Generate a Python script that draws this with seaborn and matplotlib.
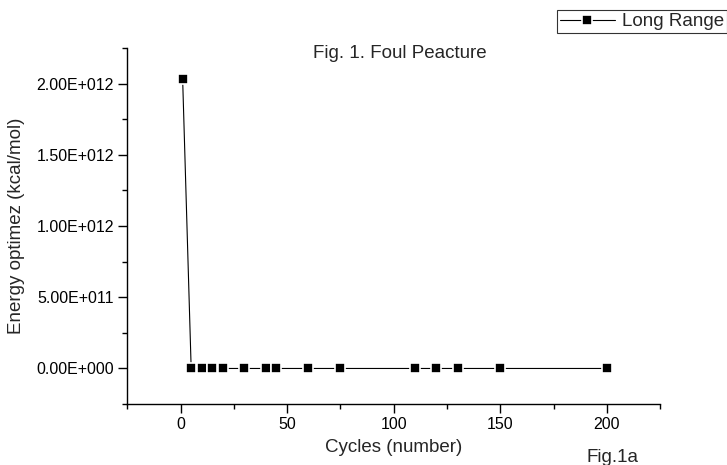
import numpy as np
import pandas as pd
import seaborn as sns
import matplotlib.pyplot as plt
from matplotlib.ticker import MultipleLocator, FuncFormatter

# 数据
cycles = [1, 5, 10, 15, 20, 30, 40, 45, 60, 75, 110, 120, 130, 150, 200]
energy = [2.03e12, 0, 0, 0, 0, 0, 0, 0, 0, 0, 0, 0, 0, 0, 0]
series_name = "Long Range"

df = pd.DataFrame({"Cycles": cycles, "Energy": energy})

sns.set_theme(style="ticks")
plt.rcParams['font.family'] = ['Liberation Sans', 'DejaVu Sans']

fig = plt.figure(figsize=(7.27, 4.65), dpi=100)
ax = fig.add_axes([0.175, 0.131, 0.733, 0.766])

# 白色描边让线条在方块附近断开（Origin 风格）
sns.lineplot(data=df, x="Cycles", y="Energy", marker="s", color="black",
             markersize=7.4, linewidth=0.8, markerfacecolor="black",
             markeredgecolor="white", markeredgewidth=1.2,
             label=series_name, ax=ax)

ax.set_xlim(-25, 225)
ax.set_ylim(-2.5e11, 2.25e12)
ax.xaxis.set_major_locator(MultipleLocator(50))
ax.xaxis.set_minor_locator(MultipleLocator(25))
ax.yaxis.set_major_locator(MultipleLocator(5e11))
ax.yaxis.set_minor_locator(MultipleLocator(2.5e11))


# 科学计数法格式，指数三位
def sci_fmt(v, pos):
    if v == 0:
        return "0.00E+000"
    exp = int(np.floor(np.log10(abs(v))))
    mant = v / 10 ** exp
    sign = "+" if exp >= 0 else "-"
    return f"{mant:.2f}E{sign}{abs(exp):03d}"


ax.yaxis.set_major_formatter(FuncFormatter(sci_fmt))

for side in ["top", "right"]:
    ax.spines[side].set_visible(False)
for side in ["left", "bottom"]:
    ax.spines[side].set_color("black")
    ax.spines[side].set_linewidth(1.0)

ax.tick_params(which="major", direction="out", length=6.5, width=1, colors="black",
               labelsize=11.5, pad=3)
ax.tick_params(which="minor", direction="out", length=3.5, width=1, colors="black")

ax.set_xlabel("Cycles (number)", fontsize=13.5, labelpad=5)
ax.set_ylabel("Energy optimez (kcal/mol)", fontsize=13.5, labelpad=8)

ax.get_legend().remove()
leg = fig.legend(loc="upper right", bbox_to_anchor=(1.0, 0.978), frameon=True,
                 fancybox=False, edgecolor="black", fontsize=13.5,
                 handlelength=2.9, borderpad=0.15, handletextpad=0.4,
                 borderaxespad=0)
leg.get_frame().set_linewidth(0.8)

fig.text(0.55, 0.884, "Fig. 1. Foul Peacture", ha="center", va="center", fontsize=13.5)
fig.text(0.843, 0.016, "Fig.1a", ha="center", va="center", fontsize=13.5)

plt.savefig("out.png", dpi=100)
